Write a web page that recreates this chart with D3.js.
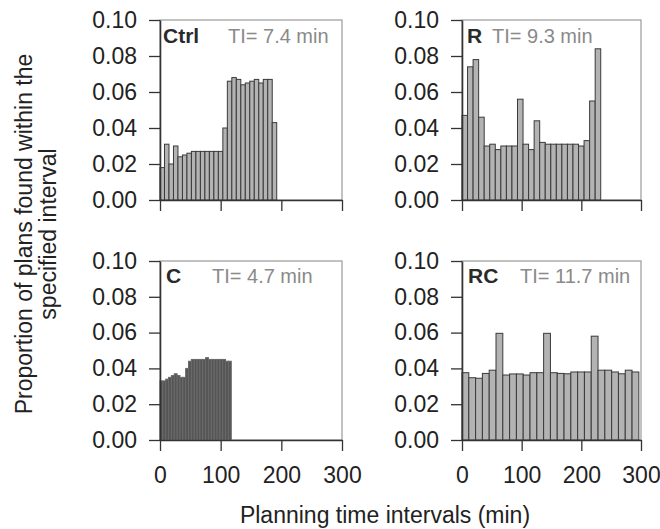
<!DOCTYPE html>
<html><head><meta charset="utf-8">
<script src="https://cdn.jsdelivr.net/npm/d3@7"></script>
<style>body{margin:0;background:#fff}</style></head>
<body><svg id="c" width="660" height="529"></svg>
<script>
// ---- data ----
const panelNames = ["Ctrl", "R", "C", "RC"];
const tiLabels = ["TI= 7.4 min", "TI= 9.3 min", "TI= 4.7 min", "TI= 11.7 min"];
const binMinutes = [7.4, 9.3, 4.7, 11.4];
const ctrlValues = [0.018, 0.031, 0.020, 0.030, 0.024, 0.025, 0.026, 0.027, 0.027, 0.027, 0.027, 0.027, 0.027, 0.027, 0.040, 0.066, 0.068, 0.067, 0.064, 0.065, 0.066, 0.067, 0.065, 0.067, 0.067, 0.043];
const rValues = [0.047, 0.074, 0.078, 0.046, 0.030, 0.031, 0.028, 0.030, 0.030, 0.030, 0.056, 0.031, 0.028, 0.044, 0.032, 0.031, 0.031, 0.031, 0.031, 0.031, 0.031, 0.030, 0.033, 0.055, 0.084];
const cValues = [0.033, 0.033, 0.034, 0.035, 0.036, 0.037, 0.036, 0.035, 0.035, 0.040, 0.044, 0.045, 0.045, 0.045, 0.045, 0.045, 0.046, 0.045, 0.045, 0.045, 0.045, 0.045, 0.045, 0.044, 0.044];
const rcValues = [0.0376, 0.0348, 0.0345, 0.0372, 0.039, 0.0596, 0.0363, 0.0369, 0.0369, 0.0363, 0.0376, 0.0376, 0.0596, 0.0376, 0.0372, 0.037, 0.038, 0.038, 0.038, 0.058, 0.039, 0.039, 0.038, 0.037, 0.039, 0.038];
const yTicks = [0, 0.02, 0.04, 0.06, 0.08, 0.10];
const xTicks = [0, 100, 200, 300];
const xTitle = "Planning time intervals (min)";
const yTitle1 = "Proportion of plans found within the";
const yTitle2 = "specified interval";

const seriesList = [ctrlValues, rValues, cValues, rcValues];

// ---- layout ----
const layout = [
  {x0:160, x1:342, y0:20,  y1:200, labelX:163, tiX:228, labelY:43,  showX:false, fill:"#b3b3b3", stroke:"#3a3a3a"},
  {x0:462, x1:641, y0:20,  y1:200, labelX:467, tiX:492, labelY:43,  showX:false, fill:"#b3b3b3", stroke:"#3a3a3a"},
  {x0:160, x1:342, y0:261, y1:440, labelX:166, tiX:212, labelY:283, showX:true,  fill:"#555555", stroke:"#6a6a6a"},
  {x0:462, x1:641, y0:261, y1:440, labelX:468, tiX:520, labelY:283, showX:true,  fill:"#b3b3b3", stroke:"#3a3a3a"}
];
const FONT = "'Liberation Sans', Arial, Helvetica, sans-serif";
const svg = d3.select("#c");

panelNames.forEach((name, p) => {
  const L = layout[p];
  const vals = seriesList[p];
  const w = binMinutes[p];
  const x = d3.scaleLinear().domain([0, 300]).range([L.x0, L.x1]);
  const y = d3.scaleLinear().domain([0, 0.10]).range([L.y1, L.y0]);
  const g = svg.append("g");

  // frame
  g.append("rect").attr("x", L.x0).attr("y", L.y0)
    .attr("width", L.x1 - L.x0).attr("height", L.y1 - L.y0)
    .attr("fill", "none").attr("stroke", "#9a9a9a").attr("stroke-width", 1.2);

  // bars
  g.selectAll("rect.bar").data(vals).join("rect").attr("class", "bar")
    .attr("x", (d, i) => x(i * w))
    .attr("width", x(w) - x(0))
    .attr("y", d => y(d))
    .attr("height", d => y(0) - y(d))
    .attr("fill", L.fill).attr("stroke", L.stroke).attr("stroke-width", 1);

  // axes
  const ya = g.append("g").attr("transform", `translate(${L.x0},0)`)
    .call(d3.axisLeft(y).tickValues(yTicks).tickFormat(d3.format(".2f"))
      .tickSize(11).tickPadding(12).tickSizeOuter(0));
  const xa = g.append("g").attr("transform", `translate(0,${L.y1})`)
    .call(d3.axisBottom(x).tickValues(xTicks).tickFormat(d => L.showX ? d : "")
      .tickSize(11).tickPadding(16).tickSizeOuter(0));
  [ya, xa].forEach(a => {
    a.attr("font-family", FONT).attr("font-size", 23);
    a.select(".domain").attr("stroke", "#333").attr("stroke-width", 1.6);
    a.selectAll(".tick line").attr("stroke", "#333").attr("stroke-width", 1.3);
    a.selectAll(".tick text").attr("fill", "#222");
  });

  // labels
  g.append("text").attr("x", L.labelX).attr("y", L.labelY)
    .attr("font-family", FONT).attr("font-size", 21).attr("font-weight", "bold")
    .attr("fill", "#2a2a2a").text(name);
  g.append("text").attr("x", L.tiX).attr("y", L.labelY)
    .attr("font-family", FONT).attr("font-size", 20)
    .attr("fill", "#8a8a8a").text(tiLabels[p]);
});

svg.append("text").attr("x", 385).attr("y", 523).attr("text-anchor", "middle")
  .attr("font-family", FONT).attr("font-size", 23).attr("fill", "#222").text(xTitle);
svg.append("text").attr("transform", "translate(32,234) rotate(-90)").attr("text-anchor", "middle")
  .attr("font-family", FONT).attr("font-size", 23).attr("fill", "#222").text(yTitle1);
svg.append("text").attr("transform", "translate(56,234) rotate(-90)").attr("text-anchor", "middle")
  .attr("font-family", FONT).attr("font-size", 23).attr("fill", "#222").text(yTitle2);
</script>
</body></html>
